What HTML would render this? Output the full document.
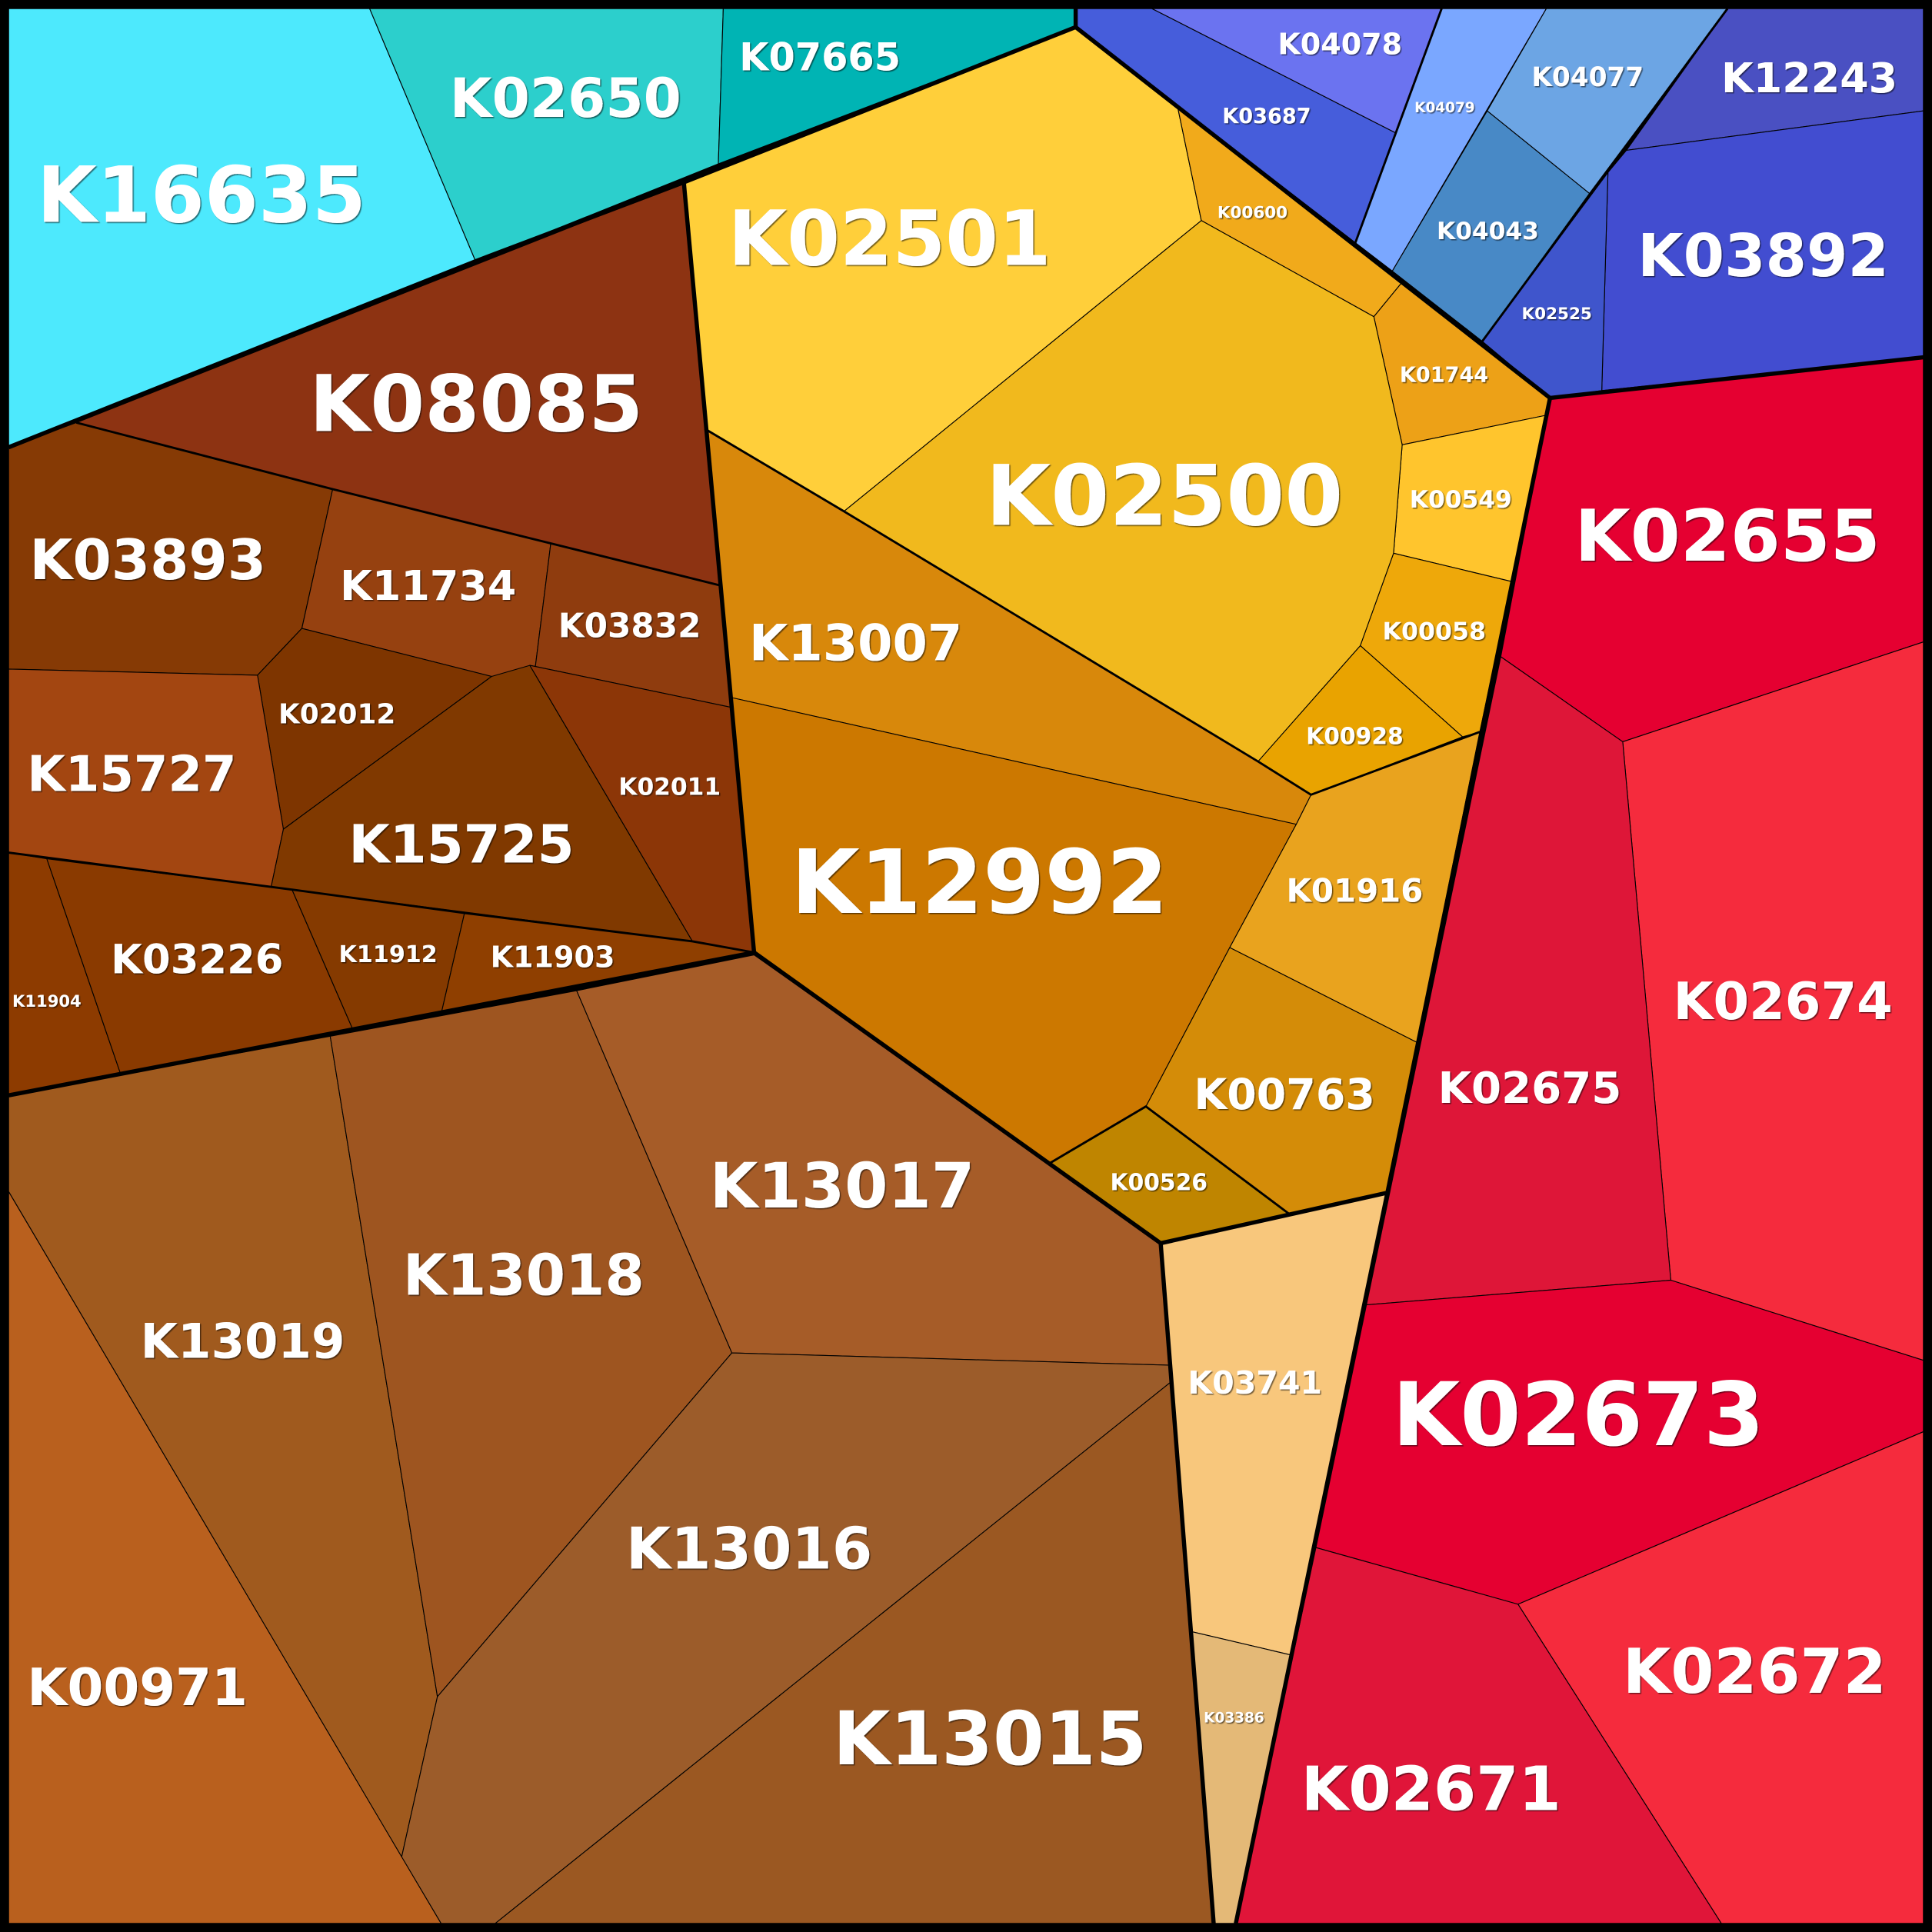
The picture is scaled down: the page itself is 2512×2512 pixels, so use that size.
<!DOCTYPE html>
<html><head><meta charset="utf-8"><style>
html,body{margin:0;padding:0;background:#000;}
svg{display:block;}
text{font-family:"DejaVu Sans","Liberation Sans",sans-serif;font-weight:bold;fill:#fff;text-anchor:middle;}
</style></head><body>
<svg width="2512" height="2512" viewBox="0 0 1568 1568" xmlns="http://www.w3.org/2000/svg">
<defs><filter id="sh" x="-5%" y="-5%" width="110%" height="120%"><feDropShadow dx="0.9" dy="0.9" stdDeviation="0.3" flood-color="#000" flood-opacity="0.55"/></filter></defs>
<rect x="0" y="0" width="1568" height="1568" fill="#000"/>
<g stroke="#000" stroke-width="0.7" stroke-linejoin="round">
<!-- cyan group -->
<polygon fill="#4de9fd" points="7,7 300,7 386,212 7,363"/>
<polygon fill="#2ccfcc" points="300,7 587,7 583,133 386,212"/>
<polygon fill="#00b4b4" points="587,7 873,7 873,22 583,133"/>
<!-- blue group -->
<polygon fill="#465ddb" points="873,7 935,7 1133,108 1100,197 873,22"/>
<polygon fill="#6b73f0" points="935,7 1170,7 1133,108"/>
<polygon fill="#7aa7ff" points="1170,7 1255,7 1130,220 1100,197"/>
<polygon fill="#6ca5e4" points="1255,7 1402,7 1290,157 1207,90"/>
<polygon fill="#4889c6" points="1207,90 1290,157 1203,277 1130,220"/>
<polygon fill="#4a50c2" points="1402,7 1561,7 1561,90 1320,122"/>
<polygon fill="#424dd0" points="1320,122 1561,90 1561,290 1300,317 1305,140"/>
<polygon fill="#3f55cc" points="1305,140 1300,317 1258,323 1203,277"/>
<!-- yellow group -->
<polygon fill="#ffcf3a" points="555,148 873,22 956,88 975,179 685,415 572,348"/>
<polygon fill="#f1aa1b" points="956,88 1138,229 1115,257 975,179"/>
<polygon fill="#eda117" points="1115,257 1138,229 1258,323 1255,337 1138,361"/>
<polygon fill="#ffc52d" points="1138,361 1255,337 1227,472 1131,449"/>
<polygon fill="#eea80a" points="1131,449 1227,472 1201,594 1187,598 1104,524"/>
<polygon fill="#e9a300" points="1104,524 1187,598 1064,645 1021,618"/>
<polygon fill="#e9a31e" points="1064,645 1201,594 1150,846 998,769 1052,669"/>
<polygon fill="#d48c08" points="998,769 1150,846 1126,968 1046,985 930,898"/>
<polygon fill="#bf8500" points="930,898 1046,985 942,1009 852,944"/>
<polygon fill="#f1b91d" points="685,415 975,179 1115,257 1138,361 1131,449 1104,524 1021,618"/>
<polygon fill="#d8880b" points="572,348 685,415 1021,618 1064,645 1052,669 593,566"/>
<polygon fill="#cc7800" points="593,566 1052,669 998,769 930,898 852,944 612,773"/>
<!-- top-left brown group -->
<polygon fill="#8d3312" points="62,343 555,148 584,475 447,441 270,397"/>
<polygon fill="#863a05" points="7,363 62,343 270,397 245,510 209,548 7,543"/>
<polygon fill="#964110" points="270,397 447,441 434,545 399,549 245,510"/>
<polygon fill="#8f3c0e" points="447,441 584,475 593,574 430,540 434,545"/>
<polygon fill="#7e3500" points="245,510 399,549 230,673 209,548"/>
<polygon fill="#a34611" points="7,543 209,548 230,673 220,720 7,692"/>
<polygon fill="#803900" points="399,549 430,540 562,764 220,720 230,673"/>
<polygon fill="#8c3607" points="430,540 593,574 612,773 562,764"/>
<polygon fill="#8d3b00" points="7,692 38,697 98,872 7,889"/>
<polygon fill="#8a3a00" points="38,697 237,722 287,837 98,872"/>
<polygon fill="#853a00" points="237,722 377,741 358,823 287,837"/>
<polygon fill="#8f3f00" points="377,741 562,764 612,773 358,823"/>
<!-- bottom brown group -->
<polygon fill="#b9601e" points="7,967 358,1561 7,1561"/>
<polygon fill="#a05a1e" points="7,889 268,841 355,1377 326,1507 7,967"/>
<polygon fill="#9e5520" points="268,841 468,804 594,1098 355,1377"/>
<polygon fill="#a65c28" points="468,804 612,775 852,944 942,1009 950,1108 594,1098"/>
<polygon fill="#9c5c2a" points="594,1098 950,1108 951,1121 402,1561 358,1561 326,1507 355,1377"/>
<polygon fill="#9b5822" points="951,1121 985,1561 402,1561"/>
<!-- light orange group -->
<polygon fill="#f8c77c" points="942,1009 1126,968 1047,1343 966,1324"/>
<polygon fill="#e4b977" points="966,1324 1047,1343 1003,1561 985,1561"/>
<!-- red group -->
<polygon fill="#e50031" points="1258,323 1561,290 1561,521 1317,602 1218,533"/>
<polygon fill="#f52b3d" points="1317,602 1561,521 1561,1104 1356,1039"/>
<polygon fill="#de1638" points="1218,533 1317,602 1356,1039 1109,1059"/>
<polygon fill="#e50031" points="1109,1059 1356,1039 1561,1104 1561,1162 1232,1302 1068,1256"/>
<polygon fill="#f52b3d" points="1232,1302 1561,1162 1561,1561 1397,1561"/>
<polygon fill="#e01539" points="1068,1256 1232,1302 1397,1561 1003,1561"/>
</g>
<!-- medium lines -->
<g fill="none" stroke="#000" stroke-width="1.8" stroke-linejoin="round">
<polyline points="62,343 270,397 447,441 584,475"/>
<polyline points="7,692 237,722 377,741 562,764 612,773"/>
<polyline points="1170,7 1100,197"/>
<polyline points="1402,7 1203,277"/>
<polyline points="572,348 685,415 1021,618 1064,645 1201,594"/>
<polyline points="852,944 930,898 1046,985"/>
</g>
<!-- thick group lines -->
<g fill="none" stroke="#000" stroke-width="3.4" stroke-linejoin="round">
<polyline points="7,363 386,212 555,148 873,22"/>
<polyline points="873,7 873,22 1258,323 1561,290"/>
<polyline points="555,148 612,773"/>
<polyline points="7,889 612,773 942,1009 1126,968"/>
<polyline points="1258,323 1126,968 1003,1561"/>
<polyline points="942,1009 985,1561"/>
</g>
<rect x="3.5" y="3.5" width="1561" height="1561" fill="none" stroke="#000" stroke-width="7"/>
<g filter="url(#sh)">
<text x="163.5" y="180" font-size="63" textLength="267" lengthAdjust="spacingAndGlyphs">K16635</text>
<text x="459" y="95" font-size="44" textLength="188" lengthAdjust="spacingAndGlyphs">K02650</text>
<text x="665.5" y="57" font-size="31" textLength="131" lengthAdjust="spacingAndGlyphs">K07665</text>
<text x="1087.5" y="44" font-size="24" textLength="101" lengthAdjust="spacingAndGlyphs">K04078</text>
<text x="1028" y="100" font-size="17" textLength="72" lengthAdjust="spacingAndGlyphs">K03687</text>
<text x="1172.5" y="91" font-size="11.5" textLength="49" lengthAdjust="spacingAndGlyphs">K04079</text>
<text x="1288.5" y="70" font-size="21.4" textLength="91" lengthAdjust="spacingAndGlyphs">K04077</text>
<text x="1468.5" y="75" font-size="33.6" textLength="143" lengthAdjust="spacingAndGlyphs">K12243</text>
<text x="1016.5" y="177" font-size="13.4" textLength="57" lengthAdjust="spacingAndGlyphs">K00600</text>
<text x="1207.5" y="194" font-size="19.5" textLength="83" lengthAdjust="spacingAndGlyphs">K04043</text>
<text x="1263.5" y="259" font-size="13.4" textLength="57" lengthAdjust="spacingAndGlyphs">K02525</text>
<text x="1431" y="224" font-size="48" textLength="204" lengthAdjust="spacingAndGlyphs">K03892</text>
<text x="722" y="215" font-size="61.6" textLength="262" lengthAdjust="spacingAndGlyphs">K02501</text>
<text x="386.5" y="350" font-size="63.7" textLength="271" lengthAdjust="spacingAndGlyphs">K08085</text>
<text x="1172" y="310" font-size="17" textLength="72" lengthAdjust="spacingAndGlyphs">K01744</text>
<text x="945" y="426" font-size="68" textLength="290" lengthAdjust="spacingAndGlyphs">K02500</text>
<text x="1185.5" y="412" font-size="19.5" textLength="83" lengthAdjust="spacingAndGlyphs">K00549</text>
<text x="1402" y="455" font-size="58" textLength="248" lengthAdjust="spacingAndGlyphs">K02655</text>
<text x="120" y="470" font-size="45" textLength="192" lengthAdjust="spacingAndGlyphs">K03893</text>
<text x="347.5" y="487" font-size="33.6" textLength="143" lengthAdjust="spacingAndGlyphs">K11734</text>
<text x="511" y="517" font-size="27.3" textLength="116" lengthAdjust="spacingAndGlyphs">K03832</text>
<text x="694.5" y="536" font-size="40.7" textLength="173" lengthAdjust="spacingAndGlyphs">K13007</text>
<text x="1164" y="519" font-size="19.7" textLength="84" lengthAdjust="spacingAndGlyphs">K00058</text>
<text x="273.5" y="587" font-size="22.3" textLength="95" lengthAdjust="spacingAndGlyphs">K02012</text>
<text x="1099.5" y="604" font-size="18.6" textLength="79" lengthAdjust="spacingAndGlyphs">K00928</text>
<text x="107" y="642" font-size="40" textLength="170" lengthAdjust="spacingAndGlyphs">K15727</text>
<text x="543.5" y="645" font-size="19.5" textLength="83" lengthAdjust="spacingAndGlyphs">K02011</text>
<text x="374.5" y="700" font-size="43" textLength="183" lengthAdjust="spacingAndGlyphs">K15725</text>
<text x="795" y="741" font-size="72" textLength="306" lengthAdjust="spacingAndGlyphs">K12992</text>
<text x="1099.5" y="732" font-size="26" textLength="111" lengthAdjust="spacingAndGlyphs">K01916</text>
<text x="38" y="817" font-size="13.2" textLength="56" lengthAdjust="spacingAndGlyphs">K11904</text>
<text x="160" y="790" font-size="33" textLength="140" lengthAdjust="spacingAndGlyphs">K03226</text>
<text x="315" y="781" font-size="18.8" textLength="80" lengthAdjust="spacingAndGlyphs">K11912</text>
<text x="448.5" y="785" font-size="23.7" textLength="101" lengthAdjust="spacingAndGlyphs">K11903</text>
<text x="1447" y="827" font-size="41.8" textLength="178" lengthAdjust="spacingAndGlyphs">K02674</text>
<text x="1241.5" y="895" font-size="35" textLength="149" lengthAdjust="spacingAndGlyphs">K02675</text>
<text x="1042.5" y="900" font-size="34.5" textLength="147" lengthAdjust="spacingAndGlyphs">K00763</text>
<text x="940.5" y="966" font-size="18.6" textLength="79" lengthAdjust="spacingAndGlyphs">K00526</text>
<text x="683.5" y="980" font-size="50.5" textLength="215" lengthAdjust="spacingAndGlyphs">K13017</text>
<text x="425" y="1051" font-size="46" textLength="196" lengthAdjust="spacingAndGlyphs">K13018</text>
<text x="197" y="1102" font-size="39" textLength="166" lengthAdjust="spacingAndGlyphs">K13019</text>
<text x="1018.5" y="1131" font-size="25.6" textLength="109" lengthAdjust="spacingAndGlyphs">K03741</text>
<text x="1281" y="1173" font-size="71" textLength="302" lengthAdjust="spacingAndGlyphs">K02673</text>
<text x="608" y="1273" font-size="47" textLength="200" lengthAdjust="spacingAndGlyphs">K13016</text>
<text x="111.5" y="1384" font-size="42" textLength="179" lengthAdjust="spacingAndGlyphs">K00971</text>
<text x="1424" y="1374" font-size="50.3" textLength="214" lengthAdjust="spacingAndGlyphs">K02672</text>
<text x="1001.5" y="1398" font-size="11.5" textLength="49" lengthAdjust="spacingAndGlyphs">K03386</text>
<text x="803.5" y="1432" font-size="60" textLength="255" lengthAdjust="spacingAndGlyphs">K13015</text>
<text x="1161.5" y="1469" font-size="49.6" textLength="211" lengthAdjust="spacingAndGlyphs">K02671</text>
</g>
</svg>
</body></html>
